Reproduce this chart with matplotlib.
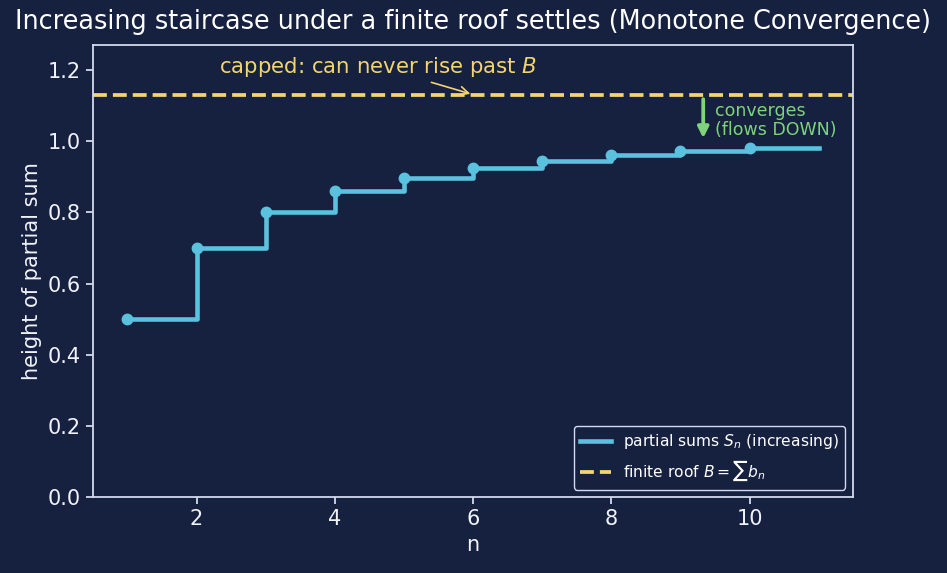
import matplotlib
matplotlib.use('agg')
import matplotlib.pyplot as plt
import numpy as np

# data
n_vals = [1, 2, 3, 4, 5, 6, 7, 8, 9, 10]
partial_sums = [0.50, 0.70, 0.80, 0.86, 0.896, 0.924, 0.944, 0.960, 0.972, 0.980]
roof_B = 1.13

bg = '#16203f'
fg = '#d3daef'
c_line = '#5ac2de'
c_roof = '#f3d56e'
c_green = '#7fd37a'

fig = plt.figure(figsize=(9.47, 5.73), dpi=100, facecolor=bg)
ax = fig.add_axes([0.098, 0.132, 0.803, 0.79], facecolor=bg)

x_step = n_vals + [n_vals[-1] + 1]
y_step = partial_sums + [partial_sums[-1]]
ax.step(x_step, y_step, where='post', color=c_line, lw=3.3, label=r'partial sums $S_n$ (increasing)')
ax.plot(n_vals, partial_sums, 'o', color=c_line, ms=7.5)
ax.axhline(roof_B, color=c_roof, ls='--', lw=2.7, label=r'finite roof $B=\sum b_n$')

ax.annotate(r'capped: can never rise past $B$', xy=(6, roof_B), xytext=(2.33, 1.208),
            color=c_roof, fontsize=15.3, va='center', ha='left',
            arrowprops=dict(arrowstyle='->', color=c_roof, lw=1.2))
ax.annotate('', xy=(9.33, 1.0), xytext=(9.33, 1.125),
            arrowprops=dict(arrowstyle='-|>', color=c_green, lw=2.7, mutation_scale=16))
ax.text(9.5, 1.057, 'converges\n(flows DOWN)', color=c_green, fontsize=12.5,
        va='center', ha='left', linespacing=1.05)

ax.set_xlim(0.5, 11.5)
ax.set_ylim(0, 1.27)
ax.set_xticks([2, 4, 6, 8, 10])
ax.set_xlabel('n', color='#f0f2f8', fontsize=15)
ax.set_ylabel('height of partial sum', color='#f0f2f8', fontsize=15)
ax.set_title('Increasing staircase under a finite roof settles (Monotone Convergence)',
             color='white', fontsize=18.4, pad=11)
ax.tick_params(colors=fg, labelcolor='#f0f2f8', labelsize=15, length=5, width=1.3)
for sp in ax.spines.values():
    sp.set_color(fg)
    sp.set_linewidth(1.3)

leg = ax.legend(loc='lower right', fontsize=11.2, facecolor=bg, edgecolor=fg, framealpha=1)
for t in leg.get_texts():
    t.set_color('white')

fig.savefig('out.png', dpi=100, facecolor=bg)
